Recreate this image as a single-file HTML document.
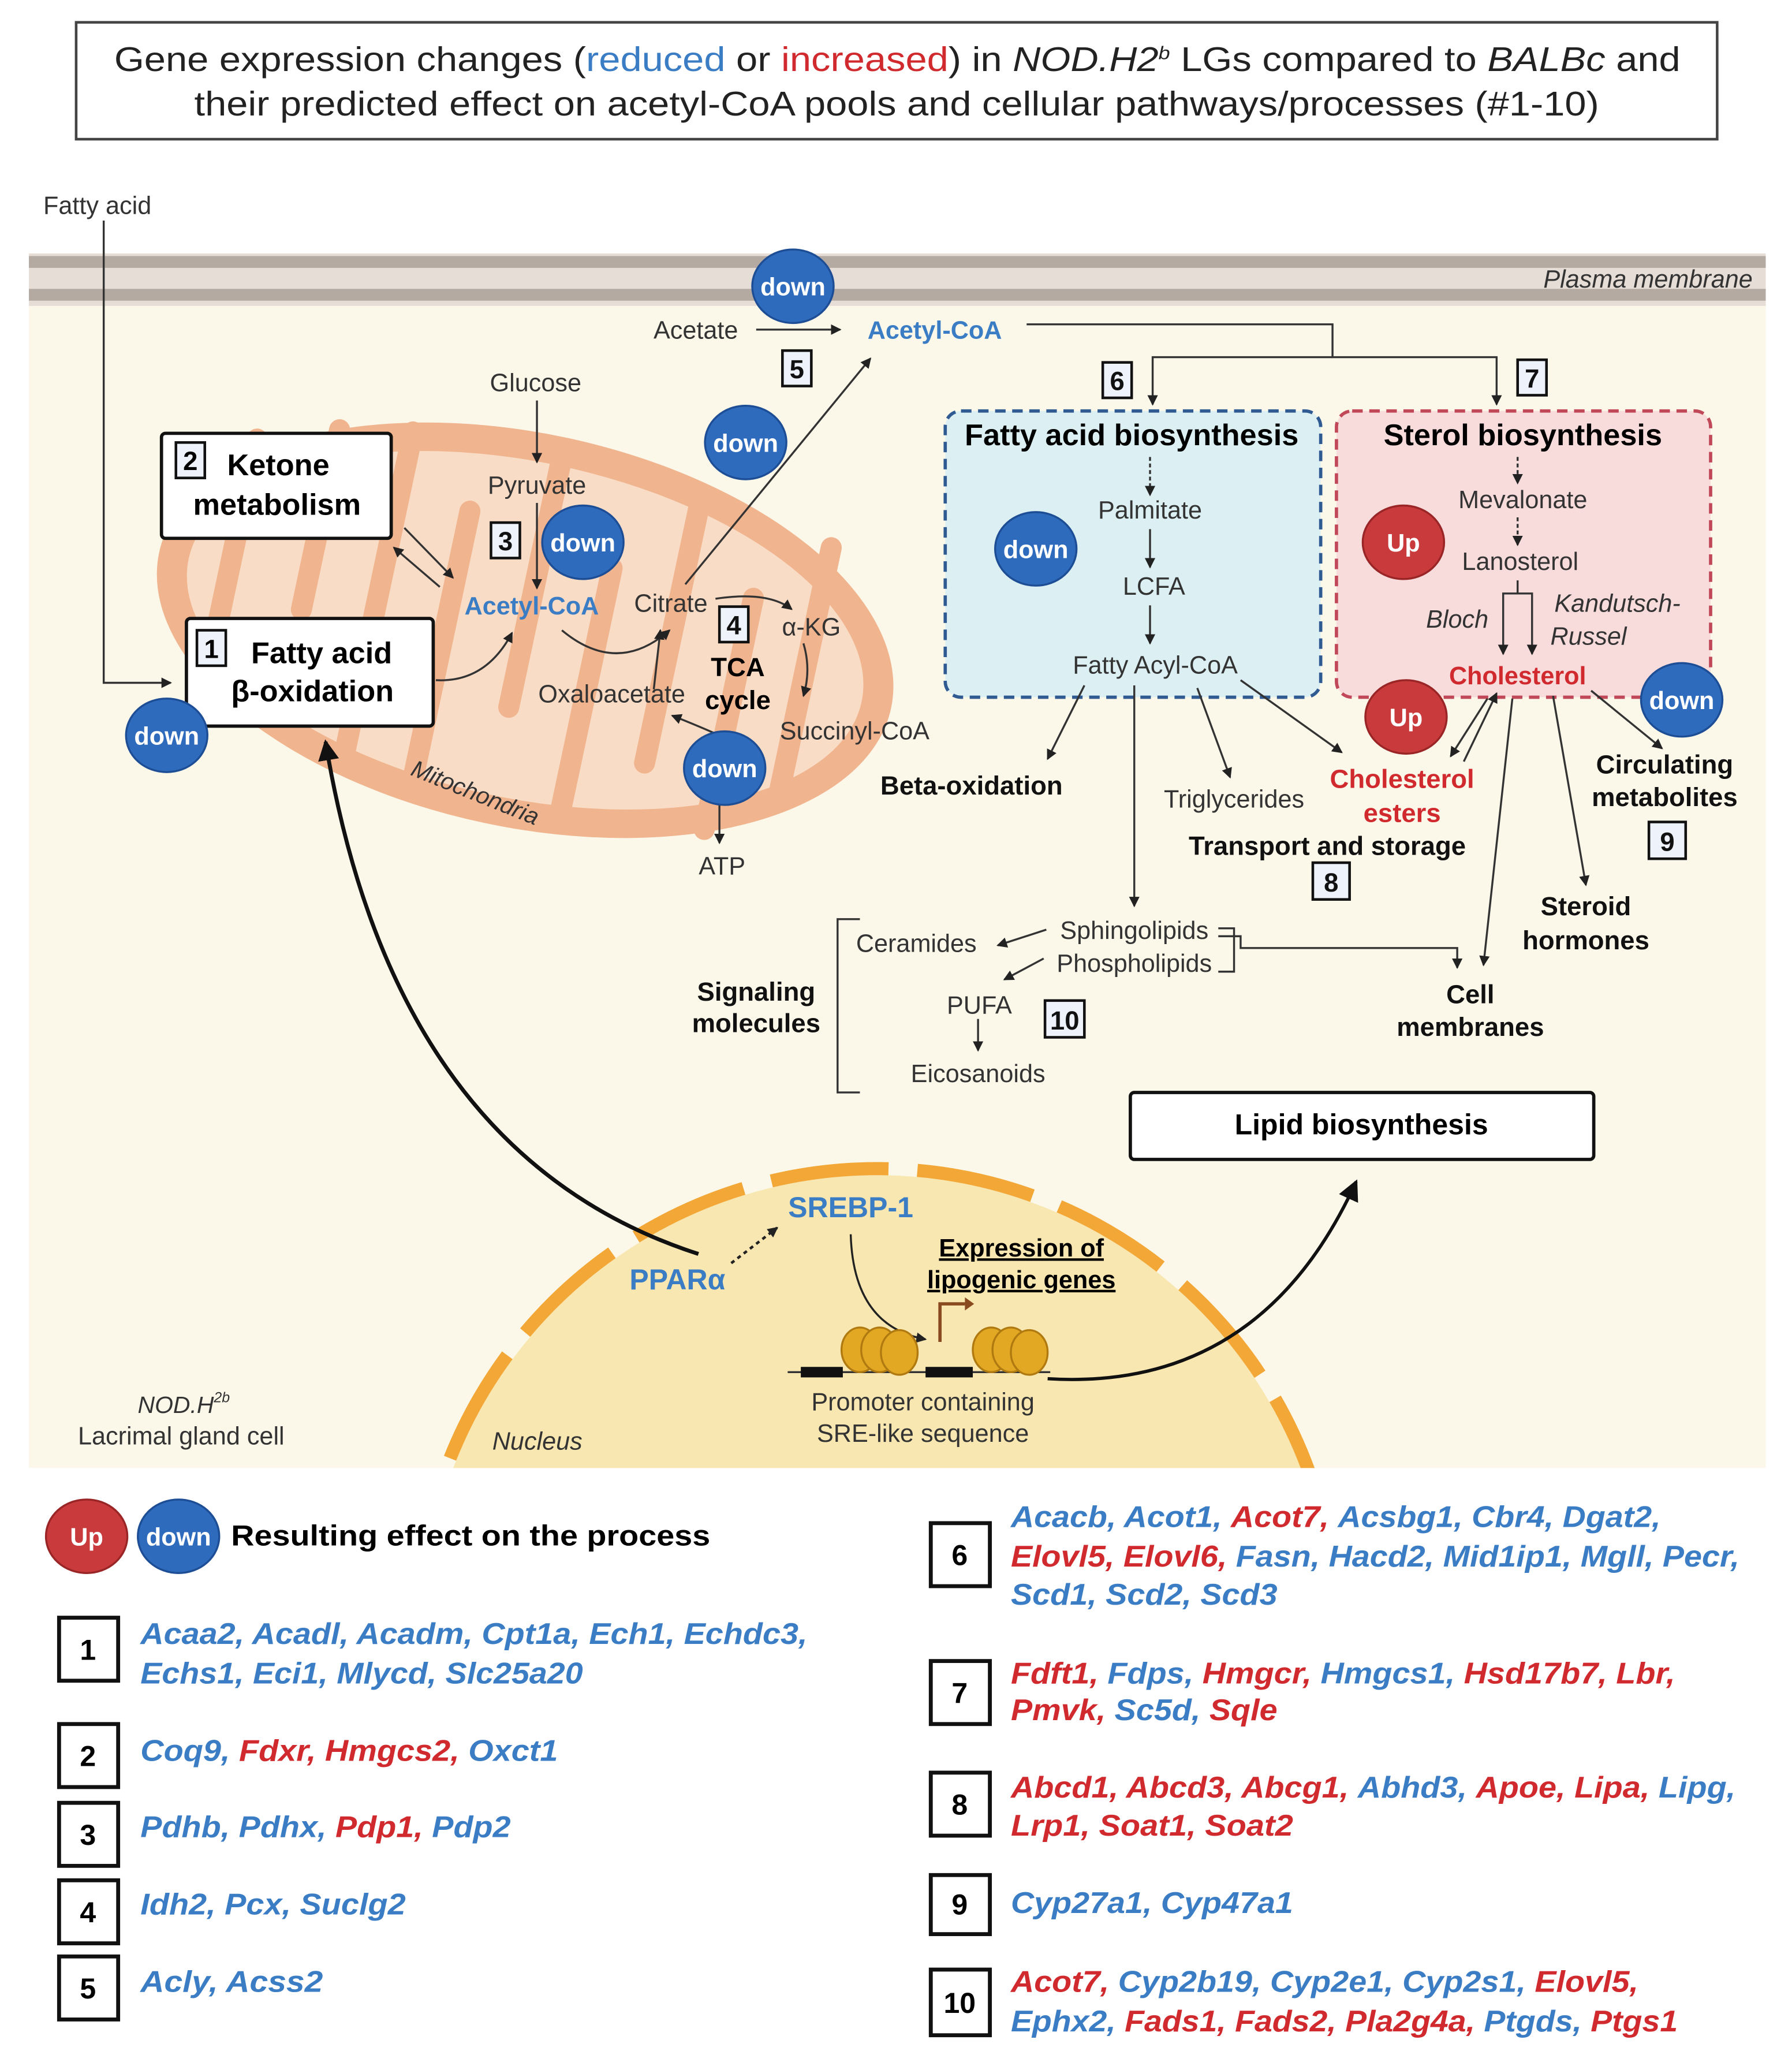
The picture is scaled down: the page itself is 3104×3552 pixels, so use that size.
<!DOCTYPE html>
<html><head><meta charset="utf-8"><style>
html,body{margin:0;padding:0;background:#fff}
svg{display:block}
text{font-family:"Liberation Sans",sans-serif}
.b{fill:#3b7dc4}.r{fill:#d12a2e}
.g{font-style:italic;font-weight:bold;font-size:23px}
</style></head><body>
<svg width="3104" height="3552" viewBox="0 0 1365 1562" preserveAspectRatio="none" xmlns="http://www.w3.org/2000/svg">
<defs>
<marker id="a" markerWidth="8" markerHeight="8" refX="7" refY="4" orient="auto" markerUnits="userSpaceOnUse"><path d="M0,0 L8,4 L0,8 Z" fill="#222"/></marker>
<marker id="A" markerWidth="16" markerHeight="16" refX="14" refY="8" orient="auto" markerUnits="userSpaceOnUse"><path d="M0,0 L16,8 L0,16 Z" fill="#111"/></marker>
</defs>
<rect width="1365" height="1562" fill="#fff"/>
<!-- title -->
<rect x="58" y="17" width="1250" height="89" fill="#fff" stroke="#444" stroke-width="2"/>
<text x="87" y="54" font-size="26" fill="#222" textLength="1193" lengthAdjust="spacingAndGlyphs">Gene expression changes (<tspan class="b">reduced</tspan> or <tspan class="r">increased</tspan>) in <tspan font-style="italic">NOD.H2</tspan><tspan font-style="italic" font-size="14" dy="-9">b</tspan><tspan dy="9"> LGs compared to </tspan><tspan font-style="italic">BALBc</tspan> and</text>
<text x="148" y="88" font-size="26" fill="#222" textLength="1070" lengthAdjust="spacingAndGlyphs">their predicted effect on acetyl-CoA pools and cellular pathways/processes (#1-10)</text>

<text x="33" y="163" font-size="19" fill="#333">Fatty acid</text>
<!-- cell -->
<rect x="22" y="230" width="1323" height="888" fill="#fbf8ea"/>
<rect x="22" y="193" width="1323" height="40" fill="#e6ddd6"/>
<rect x="22" y="195" width="1323" height="9" fill="#b5aaa2"/>
<rect x="22" y="220" width="1323" height="9" fill="#b5aaa2"/>
<text x="1335" y="219" font-size="19" font-style="italic" text-anchor="end" fill="#333">Plasma membrane</text>

<!-- mitochondria -->
<g transform="rotate(12 400 480)">
<ellipse cx="400" cy="480" rx="285" ry="150" fill="#f0b48e"/>
<ellipse cx="400" cy="480" rx="262" ry="128" fill="#f9dcc6"/>
<g stroke="#f0b48e" stroke-width="16" fill="none" stroke-linecap="round">
<path d="M170,380 L170,560"/><path d="M230,360 L230,500"/><path d="M285,350 L285,600"/>
<path d="M340,400 L340,610"/><path d="M400,345 L400,540"/><path d="M455,420 L455,615"/>
<path d="M510,350 L510,560"/><path d="M565,420 L565,600"/><path d="M615,370 L615,560"/>
</g>
</g>
<text x="312" y="590" font-size="18" font-style="italic" fill="#333" transform="rotate(22 312 590)">Mitochondria</text>

<!-- nucleus -->
<clipPath id="cc"><rect x="22" y="230" width="1323" height="888"/></clipPath>
<g clip-path="url(#cc)">
<circle cx="668" cy="1240" r="345" fill="#f8e7b0"/>
<circle cx="668" cy="1240" r="350" fill="none" stroke="#f3a736" stroke-width="10" stroke-dasharray="90 22"/>
</g>
<text x="375" y="1104" font-size="19" font-style="italic" fill="#333">Nucleus</text>
<text x="140" y="1076" font-size="18" font-style="italic" text-anchor="middle" fill="#333">NOD.H<tspan font-size="11" dy="-8">2b</tspan></text>
<text x="138" y="1100" font-size="19" text-anchor="middle" fill="#333">Lacrimal gland cell</text>

<path d="M79,168 L79,520 L130,520" fill="none" stroke="#333" stroke-width="1.5" marker-end="url(#a)"/>

<!-- boxes -->
<rect x="123" y="330" width="175" height="80" rx="3" fill="#fff" stroke="#111" stroke-width="2.5"/>
<rect x="134" y="337" width="22" height="27" fill="#eef2fb" stroke="#111" stroke-width="2"/>
<text x="145" y="358" font-size="20" font-weight="bold" text-anchor="middle">2</text>
<text x="212" y="362" font-size="23" font-weight="bold" text-anchor="middle">Ketone</text>
<text x="211" y="392" font-size="23" font-weight="bold" text-anchor="middle">metabolism</text>

<rect x="142" y="471" width="188" height="82" rx="3" fill="#fff" stroke="#111" stroke-width="2.5"/>
<rect x="150" y="480" width="22" height="27" fill="#eef2fb" stroke="#111" stroke-width="2"/>
<text x="161" y="501" font-size="20" font-weight="bold" text-anchor="middle">1</text>
<text x="245" y="505" font-size="23" font-weight="bold" text-anchor="middle">Fatty acid</text>
<text x="238" y="534" font-size="23" font-weight="bold" text-anchor="middle">β-oxidation</text>

<g font-size="20" font-weight="bold" text-anchor="middle" fill="#111">
<rect x="374" y="398" width="22" height="27" fill="#eef2fb" stroke="#111" stroke-width="2"/><text x="385" y="419">3</text>
<rect x="548" y="462" width="22" height="27" fill="#eef2fb" stroke="#111" stroke-width="2"/><text x="559" y="483">4</text>
<rect x="596" y="267" width="22" height="27" fill="#eef2fb" stroke="#111" stroke-width="2"/><text x="607" y="288">5</text>
<rect x="840" y="276" width="22" height="27" fill="#eef2fb" stroke="#111" stroke-width="2"/><text x="851" y="297">6</text>
<rect x="1156" y="274" width="22" height="27" fill="#eef2fb" stroke="#111" stroke-width="2"/><text x="1167" y="295">7</text>
<rect x="1000" y="657" width="28" height="28" fill="#eef2fb" stroke="#111" stroke-width="2"/><text x="1014" y="679">8</text>
<rect x="1256" y="626" width="28" height="28" fill="#eef2fb" stroke="#111" stroke-width="2"/><text x="1270" y="648">9</text>
<rect x="796" y="762" width="30" height="28" fill="#eef2fb" stroke="#111" stroke-width="2"/><text x="811" y="784">10</text>
</g>

<g font-size="19" fill="#333">
<text x="408" y="298" text-anchor="middle">Glucose</text>
<text x="409" y="376" text-anchor="middle">Pyruvate</text>
<text x="405" y="468" text-anchor="middle" class="b" font-weight="bold" font-size="19">Acetyl-CoA</text>
<text x="511" y="466" text-anchor="middle">Citrate</text>
<text x="618" y="484" text-anchor="middle">α-KG</text>
<text x="466" y="535" text-anchor="middle">Oxaloacetate</text>
<text x="651" y="563" text-anchor="middle">Succinyl-CoA</text>
<text x="550" y="666" text-anchor="middle">ATP</text>
<text x="530" y="258" text-anchor="middle">Acetate</text>
<text x="712" y="258" text-anchor="middle" class="b" font-weight="bold">Acetyl-CoA</text>
</g>
<text x="562" y="515" font-size="20" font-weight="bold" text-anchor="middle">TCA</text>
<text x="562" y="540" font-size="20" font-weight="bold" text-anchor="middle">cycle</text>

<g stroke="#333" stroke-width="1.5" fill="none" marker-end="url(#a)">
<path d="M409,305 L409,352"/>
<path d="M409,383 L409,448"/>
<path d="M308,402 L345,440"/><path d="M335,447 L300,417"/>
<path d="M332,518 Q370,520 390,482"/>
<path d="M428,480 Q470,515 510,480"/>
<path d="M498,525 L503,480"/>
<path d="M545,456 Q585,450 603,464"/>
<path d="M612,490 Q618,510 612,530"/>
<path d="M575,573 Q550,560 512,545"/>
<path d="M548,610 L548,642"/>
<path d="M522,445 L663,273"/>
<path d="M576,251 L640,251"/>
<path d="M782,247 L1015,247 L1015,272 L1140,272 L1140,308"/>
<path d="M1015,272 L878,272 L878,308"/>
</g>

<rect x="720" y="313" width="286" height="218" rx="12" fill="#dcf0f3" stroke="#2f5a92" stroke-width="2.5" stroke-dasharray="8 5"/>
<rect x="1018" y="313" width="285" height="218" rx="12" fill="#f8dcdc" stroke="#c04858" stroke-width="2.5" stroke-dasharray="8 5"/>
<text x="862" y="339" font-size="23" font-weight="bold" text-anchor="middle">Fatty acid biosynthesis</text>
<text x="1160" y="339" font-size="23" font-weight="bold" text-anchor="middle">Sterol biosynthesis</text>
<g font-size="19" fill="#333" text-anchor="middle">
<text x="876" y="395">Palmitate</text>
<text x="879" y="453">LCFA</text>
<text x="880" y="513">Fatty Acyl-CoA</text>
<text x="1160" y="387">Mevalonate</text>
<text x="1158" y="434">Lanosterol</text>
<text x="1110" y="478" font-style="italic">Bloch</text>
<text x="1232" y="466" font-style="italic">Kandutsch-</text>
<text x="1210" y="491" font-style="italic">Russel</text>
<text x="1156" y="521" class="r" font-weight="bold">Cholesterol</text>
</g>
<g stroke="#333" stroke-width="1.5" fill="none" marker-end="url(#a)">
<path d="M876,348 L876,377" stroke-dasharray="3 2"/>
<path d="M876,403 L876,432"/>
<path d="M876,461 L876,490"/>
<path d="M1156,348 L1156,368" stroke-dasharray="3 2"/>
<path d="M1156,394 L1156,415" stroke-dasharray="3 2"/>
<path d="M1156,442 L1156,452 L1145,452 L1145,498"/>
<path d="M1156,452 L1167,452 L1167,498"/>
<path d="M826,522 L798,578"/>
<path d="M864,522 L864,690"/>
<path d="M912,524 L937,592"/>
<path d="M945,518 L1022,573"/>
<path d="M1133,532 L1105,576"/><path d="M1115,580 L1140,528"/>
<path d="M1152,532 L1130,735"/>
<path d="M1183,530 L1208,674"/>
<path d="M1212,526 L1266,570"/>
<path d="M928,713 L945,713 L945,722 L1110,722 L1110,737"/>
<path d="M797,708 L760,720"/>
<path d="M795,730 L765,746"/>
<path d="M745,776 L745,800"/>
</g>
<g font-size="19" fill="#333" text-anchor="middle">
<text x="940" y="615">Triglycerides</text>
<text x="864" y="715">Sphingolipids</text>
<text x="864" y="740">Phospholipids</text>
<text x="698" y="725">Ceramides</text>
<text x="746" y="772">PUFA</text>
<text x="745" y="824">Eicosanoids</text>
</g>
<path d="M655,700 L638,700 L638,832 L655,832" fill="none" stroke="#333" stroke-width="1.5"/>
<path d="M928,707 L940,707 L940,740 L928,740" fill="none" stroke="#333" stroke-width="1.5"/>
<g font-size="20" font-weight="bold" text-anchor="middle" fill="#111">
<text x="740" y="605">Beta-oxidation</text>
<text x="1068" y="600" class="r">Cholesterol</text>
<text x="1068" y="626" class="r">esters</text>
<text x="1011" y="651">Transport and storage</text>
<text x="1268" y="589">Circulating</text>
<text x="1268" y="614">metabolites</text>
<text x="1208" y="697">Steroid</text>
<text x="1208" y="723">hormones</text>
<text x="1120" y="764">Cell</text>
<text x="1120" y="789">membranes</text>
<text x="576" y="762">Signaling</text>
<text x="576" y="786">molecules</text>
</g>

<rect x="861" y="832" width="353" height="51" rx="3" fill="#fff" stroke="#111" stroke-width="2.5"/>
<text x="1037" y="864" font-size="22" font-weight="bold" text-anchor="middle">Lipid biosynthesis</text>

<text x="648" y="927" font-size="22" font-weight="bold" class="b" text-anchor="middle">SREBP-1</text>
<text x="516" y="982" font-size="22" font-weight="bold" class="b" text-anchor="middle">PPARα</text>
<text x="778" y="957" font-size="19" font-weight="bold" text-anchor="middle" text-decoration="underline">Expression of</text>
<text x="778" y="981" font-size="19" font-weight="bold" text-anchor="middle" text-decoration="underline">lipogenic genes</text>
<path d="M557,962 L592,935" stroke="#222" stroke-width="2" stroke-dasharray="3 3" fill="none" marker-end="url(#a)"/>
<path d="M648,940 Q650,1010 705,1020" stroke="#222" stroke-width="1.5" fill="none" marker-end="url(#a)"/>
<path d="M716,1022 L716,993 L735,993" stroke="#8a4a20" stroke-width="2.5" fill="none"/>
<path d="M735,988 L742,993 L735,998 Z" fill="#8a4a20"/>
<path d="M600,1045 L800,1045" stroke="#333" stroke-width="1.5"/>
<rect x="610" y="1041" width="32" height="8" fill="#111"/><rect x="705" y="1041" width="36" height="8" fill="#111"/>
<g fill="#e3a823" stroke="#b07a10" stroke-width="1.5">
<ellipse cx="655" cy="1028" rx="14" ry="17"/><ellipse cx="670" cy="1028" rx="14" ry="17"/><ellipse cx="685" cy="1030" rx="14" ry="17"/>
<ellipse cx="755" cy="1028" rx="14" ry="17"/><ellipse cx="770" cy="1028" rx="14" ry="17"/><ellipse cx="784" cy="1030" rx="14" ry="17"/>
</g>
<text x="703" y="1074" font-size="19" text-anchor="middle" fill="#333">Promoter containing</text>
<text x="703" y="1098" font-size="19" text-anchor="middle" fill="#333">SRE-like sequence</text>
<path d="M798,1050 Q960,1060 1033,900" stroke="#111" stroke-width="2.5" fill="none" marker-end="url(#A)"/>
<path d="M532,955 Q300,880 248,565" stroke="#111" stroke-width="3" fill="none" marker-end="url(#A)"/>

<g font-size="19" font-weight="bold" text-anchor="middle" fill="#fff">
<g fill="#2f6bbd" stroke="#1d4e95" stroke-width="1.5">
<ellipse cx="604" cy="218" rx="31" ry="28"/><ellipse cx="568" cy="337" rx="31" ry="28"/>
<ellipse cx="444" cy="413" rx="31" ry="28"/><ellipse cx="127" cy="560" rx="31" ry="28"/>
<ellipse cx="789" cy="418" rx="31" ry="28"/><ellipse cx="552" cy="585" rx="31" ry="28"/>
<ellipse cx="1281" cy="533" rx="31" ry="28"/><ellipse cx="136" cy="1170" rx="31" ry="28"/>
</g>
<g fill="#c83a3c" stroke="#992526" stroke-width="1.5">
<ellipse cx="1069" cy="413" rx="31" ry="28"/><ellipse cx="1071" cy="546" rx="31" ry="28"/>
<ellipse cx="66" cy="1170" rx="31" ry="28"/>
</g>
<text x="604" y="225">down</text><text x="568" y="344">down</text><text x="444" y="420">down</text>
<text x="127" y="567">down</text><text x="789" y="425">down</text><text x="552" y="592">down</text>
<text x="1281" y="540">down</text><text x="136" y="1177">down</text>
<text x="1069" y="420">Up</text><text x="1071" y="553">Up</text><text x="66" y="1177">Up</text>
</g>
<text x="176" y="1177" font-size="22" font-weight="bold" textLength="365" lengthAdjust="spacingAndGlyphs">Resulting effect on the process</text>

<g fill="#fff" stroke="#111" stroke-width="3">
<rect x="45" y="1232" width="45" height="48"/><rect x="45" y="1313" width="45" height="48"/>
<rect x="45" y="1373" width="45" height="48"/><rect x="45" y="1432" width="45" height="48"/>
<rect x="45" y="1490" width="45" height="48"/>
<rect x="709" y="1160" width="45" height="48"/><rect x="709" y="1265" width="45" height="48"/>
<rect x="709" y="1350" width="45" height="48"/><rect x="709" y="1428" width="45" height="45"/>
<rect x="709" y="1500" width="45" height="50"/>
</g>
<g font-size="22" font-weight="bold" text-anchor="middle">
<text x="67" y="1264">1</text><text x="67" y="1345">2</text><text x="67" y="1405">3</text><text x="67" y="1464">4</text><text x="67" y="1522">5</text>
<text x="731" y="1192">6</text><text x="731" y="1297">7</text><text x="731" y="1382">8</text><text x="731" y="1458">9</text><text x="731" y="1533">10</text>
</g>
<g class="g">
<text x="107" y="1252" class="b" textLength="508" lengthAdjust="spacingAndGlyphs">Acaa2, Acadl, Acadm, Cpt1a, Ech1, Echdc3,</text>
<text x="107" y="1282" class="b" textLength="337" lengthAdjust="spacingAndGlyphs">Echs1, Eci1, Mlycd, Slc25a20</text>
<text x="107" y="1341" textLength="318" lengthAdjust="spacingAndGlyphs"><tspan class="b">Coq9, </tspan><tspan class="r">Fdxr, Hmgcs2, </tspan><tspan class="b">Oxct1</tspan></text>
<text x="107" y="1399" textLength="282" lengthAdjust="spacingAndGlyphs"><tspan class="b">Pdhb, Pdhx, </tspan><tspan class="r">Pdp1, </tspan><tspan class="b">Pdp2</tspan></text>
<text x="107" y="1458" class="b" textLength="202" lengthAdjust="spacingAndGlyphs">Idh2, Pcx, Suclg2</text>
<text x="107" y="1517" class="b" textLength="139" lengthAdjust="spacingAndGlyphs">Acly, Acss2</text>
<text x="770" y="1163" textLength="495" lengthAdjust="spacingAndGlyphs"><tspan class="b">Acacb, Acot1, </tspan><tspan class="r">Acot7, </tspan><tspan class="b">Acsbg1, Cbr4, Dgat2,</tspan></text>
<text x="770" y="1193" textLength="555" lengthAdjust="spacingAndGlyphs"><tspan class="r">Elovl5, Elovl6, </tspan><tspan class="b">Fasn, Hacd2, Mid1ip1, Mgll, Pecr,</tspan></text>
<text x="770" y="1222" class="b" textLength="203" lengthAdjust="spacingAndGlyphs">Scd1, Scd2, Scd3</text>
<text x="770" y="1282" textLength="506" lengthAdjust="spacingAndGlyphs"><tspan class="r">Fdft1, </tspan><tspan class="b">Fdps, </tspan><tspan class="r">Hmgcr, </tspan><tspan class="b">Hmgcs1, </tspan><tspan class="r">Hsd17b7, Lbr,</tspan></text>
<text x="770" y="1310" textLength="203" lengthAdjust="spacingAndGlyphs"><tspan class="r">Pmvk, </tspan><tspan class="b">Sc5d, </tspan><tspan class="r">Sqle</tspan></text>
<text x="770" y="1369" textLength="552" lengthAdjust="spacingAndGlyphs"><tspan class="r">Abcd1, Abcd3, Abcg1, </tspan><tspan class="b">Abhd3, </tspan><tspan class="r">Apoe, Lipa, </tspan><tspan class="b">Lipg,</tspan></text>
<text x="770" y="1398" class="r" textLength="215" lengthAdjust="spacingAndGlyphs">Lrp1, Soat1, Soat2</text>
<text x="770" y="1457" class="b" textLength="215" lengthAdjust="spacingAndGlyphs">Cyp27a1, Cyp47a1</text>
<text x="770" y="1517" textLength="478" lengthAdjust="spacingAndGlyphs"><tspan class="r">Acot7, </tspan><tspan class="b">Cyp2b19, Cyp2e1, Cyp2s1, </tspan><tspan class="r">Elovl5,</tspan></text>
<text x="770" y="1547" textLength="508" lengthAdjust="spacingAndGlyphs"><tspan class="b">Ephx2, </tspan><tspan class="r">Fads1, Fads2, Pla2g4a, </tspan><tspan class="b">Ptgds, </tspan><tspan class="r">Ptgs1</tspan></text>
</g>
</svg>
</body></html>
